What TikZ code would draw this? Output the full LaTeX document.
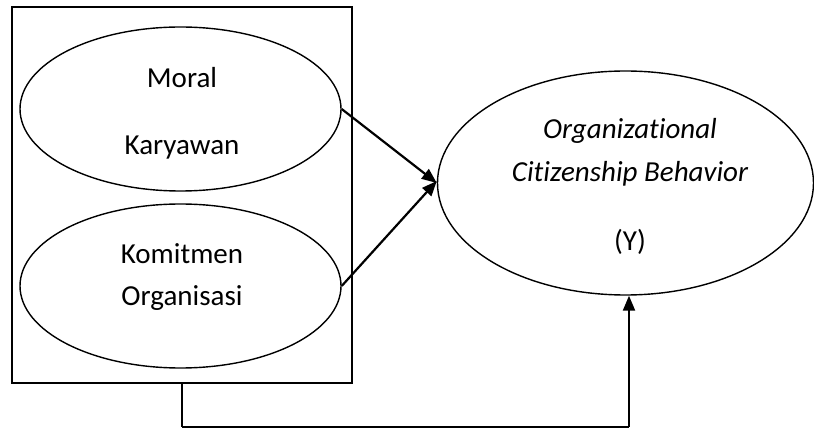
\documentclass[tikz,border=0pt]{standalone}
\usepackage{fontspec}
\setmainfont{Carlito}[Ligatures=CommonOff]
\usetikzlibrary{shapes.geometric,arrows.meta}
\begin{document}
\begin{tikzpicture}[x=1pt,y=-1pt,
  oval/.style={draw,ellipse,line width=1.4pt,inner sep=0pt},
  lbl/.style={font=\fontsize{29}{32}\selectfont,inner sep=0pt,anchor=base},
  arr/.style={line width=2.2pt,-{Triangle[length=15pt,width=12pt]}},
  plain/.style={line width=1.6pt}]
\useasboundingbox (0,0) rectangle (814,430);
\node[draw,plain,minimum width=340pt,minimum height=376pt,inner sep=0pt] (box) at (182,195) {};
\node[oval,minimum width=321pt,minimum height=164pt] (e1) at (180.5,109) {};
\node[oval,minimum width=321pt,minimum height=164pt] (e2) at (180.5,286) {};
\node[oval,minimum width=376pt,minimum height=224pt] (y) at (625.5,183) {};
\node[lbl] (t1) at (182,88) {Moral};
\node[lbl] (t2) at (182,155) {Karyawan};
\node[lbl] (t3) at (182,264) {Komitmen};
\node[lbl] (t4) at (182,306) {Organisasi};
\node[lbl] (t5) at (630,139) {\itshape Organizational};
\node[lbl] (t6) at (630,182) {\itshape Citizenship Behavior};
\node[lbl] (t7) at (630,251) {(Y)};
\coordinate (c1) at (182,427);
\coordinate (c2) at (629,427);
\draw[arr] (e1.east) -- (y.west);
\draw[arr] (e2.east) -- ([yshift=2pt]y.west);
\draw[line width=1.6pt] (box.south -| c1) -- (c1);
\draw[line width=1.2pt] (c1) -- (c2);
\draw[arr] (c2) -- (y.south -| c2);
\end{tikzpicture}
\end{document}
